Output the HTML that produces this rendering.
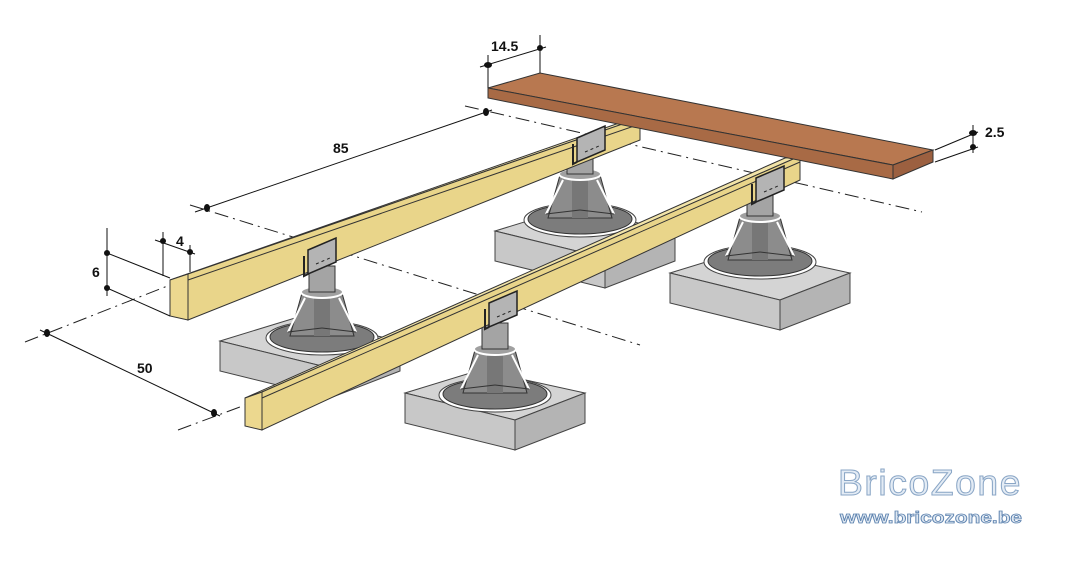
<!DOCTYPE html>
<html><head><meta charset="utf-8"><style>
html,body{margin:0;padding:0;background:#fff;width:1076px;height:561px;overflow:hidden}
svg{display:block}
</style></head><body>
<svg width="1076" height="561" viewBox="0 0 1076 561" xmlns="http://www.w3.org/2000/svg">
<defs>
<g id="pad">
  <polygon points="-90,-2 -15,-25 90,-2 20,25" fill="#d4d4d4" stroke="#444" stroke-width="1"/>
  <polygon points="-90,-2 20,25 20,55 -90,28" fill="#c8c8c8" stroke="#444" stroke-width="1"/>
  <polygon points="20,25 90,-2 90,28 20,55" fill="#b4b4b4" stroke="#444" stroke-width="1"/>
</g>
<g id="ped">
  <ellipse cx="0" cy="0" rx="56" ry="17" fill="#fff" stroke="#444"/>
  <ellipse cx="0" cy="-1" rx="52" ry="15" fill="#7c7c7c" stroke="#333"/>
  <polygon points="-32,-2 32,-2 20,-45 -20,-45" fill="#8c8c8c" stroke="#333"/>
  <polygon points="-8,-2 8,-2 8,-45 -8,-45" fill="#777"/>
  <line x1="-34" y1="-6" x2="-17" y2="-40" stroke="#fff" stroke-width="2"/>
  <line x1="34" y1="-6" x2="17" y2="-40" stroke="#fff" stroke-width="2"/>
  <line x1="-34" y1="-6" x2="0" y2="-10" stroke="#333"/>
  <line x1="34" y1="-6" x2="0" y2="-10" stroke="#333"/>
  <ellipse cx="0" cy="-46" rx="21" ry="6" fill="#a0a0a0" stroke="#fff" stroke-width="2"/>
  <rect x="-13" y="-72" width="26" height="26" fill="#a4a4a4" stroke="#333"/>
</g>
<g id="brk">
  <polygon points="-8,-2 20,-14 20,10 -8,22" fill="#b4b4b4" stroke="#222" stroke-width="1.5"/>
  <polyline points="-8,22 -12,24 -12,4" fill="none" stroke="#222" stroke-width="2"/>
  <line x1="0" y1="12" x2="14" y2="6" stroke="#222" stroke-dasharray="3,3"/>
</g>
</defs>

<!-- centre lines -->
<g stroke="#222" stroke-width="1" stroke-dasharray="14,5,2,5" fill="none">
  <line x1="190" y1="205" x2="640" y2="345"/>
  <line x1="465" y1="106" x2="922" y2="212"/>
  <line x1="25" y1="342" x2="170" y2="285"/>
  <line x1="178" y1="430" x2="248" y2="404"/>
</g>

<use href="#pad" x="585" y="233"/>
<use href="#ped" x="580" y="220"/>
<use href="#pad" x="310" y="343"/>
<use href="#ped" x="322" y="338"/>

<!-- joist 1 -->
<polygon points="170,280 188,274 640,118 622,122" fill="#f2e4a8" stroke="#333" stroke-width="1"/>
<polygon points="188,274 640,118 640,140 188,320" fill="#e9d58a" stroke="#333" stroke-width="1"/>
<polygon points="170,280 188,274 188,320 170,316" fill="#ecd88f" stroke="#333" stroke-width="1"/>
<line x1="188" y1="280" x2="640" y2="124" stroke="#333"/>

<use href="#pad" x="760" y="275"/>
<use href="#ped" x="760" y="262"/>
<use href="#pad" x="495" y="395"/>
<use href="#ped" x="495" y="395"/>

<!-- joist 2 -->
<polygon points="245,398 262,392 800,156 785,158" fill="#f2e4a8" stroke="#333" stroke-width="1"/>
<polygon points="262,392 800,156 800,180 262,430" fill="#e9d58a" stroke="#333" stroke-width="1"/>
<polygon points="245,398 262,392 262,430 245,426" fill="#ecd88f" stroke="#333" stroke-width="1"/>
<line x1="262" y1="398" x2="800" y2="162" stroke="#333"/>

<use href="#brk" x="585" y="140"/>
<use href="#brk" x="316" y="252"/>
<use href="#brk" x="764" y="180"/>
<use href="#brk" x="497" y="305"/>

<!-- board -->
<polygon points="488,88 540,73 933,150 893,165" fill="#b87850" stroke="#333" stroke-width="1"/>
<polygon points="488,88 893,165 893,179 488,98" fill="#a86a45" stroke="#333" stroke-width="1"/>
<polygon points="893,165 933,150 933,162 893,179" fill="#9c6040" stroke="#333" stroke-width="1"/>

<g stroke="#111" stroke-width="1" fill="none">
  <line x1="195" y1="212" x2="492" y2="110"/>
  <line x1="40" y1="330" x2="220" y2="416"/>
  <line x1="107" y1="228" x2="107" y2="296"/>
  <line x1="107" y1="253" x2="170" y2="278"/>
  <line x1="107" y1="288" x2="170" y2="316"/>
  <line x1="163" y1="232" x2="163" y2="276"/>
  <line x1="190" y1="245" x2="190" y2="272"/>
  <line x1="155" y1="240" x2="195" y2="254"/>
  <line x1="488" y1="55" x2="488" y2="88"/>
  <line x1="540" y1="35" x2="540" y2="73"/>
  <line x1="480" y1="67" x2="546" y2="47"/>
  <line x1="935" y1="150" x2="978" y2="132"/>
  <line x1="935" y1="162" x2="978" y2="147"/>
  <line x1="973" y1="125" x2="973" y2="153"/>
</g>
<g fill="#111">
  <ellipse cx="207" cy="208" rx="3" ry="4"/>
  <ellipse cx="486" cy="112" rx="3" ry="4"/>
  <ellipse cx="47" cy="333" rx="3" ry="4"/>
  <ellipse cx="214" cy="413" rx="3" ry="4"/>
  <circle cx="107" cy="253" r="3"/>
  <circle cx="107" cy="288" r="3"/>
  <circle cx="163" cy="241" r="3"/>
  <circle cx="190" cy="252" r="3"/>
  <ellipse cx="488" cy="65" rx="4" ry="3"/>
  <circle cx="540" cy="48" r="3"/>
  <ellipse cx="973" cy="133" rx="4" ry="3"/>
  <circle cx="973" cy="147" r="3"/>
</g>
<g font-family="Liberation Sans, sans-serif" font-weight="bold" font-size="14" fill="#111">
  <text x="333" y="153">85</text>
  <text x="137" y="373">50</text>
  <text x="92" y="277">6</text>
  <text x="176" y="246">4</text>
  <text x="491" y="51">14.5</text>
  <text x="985" y="137">2.5</text>
</g>
<text x="838" y="495" font-family="Liberation Sans, sans-serif" font-size="36" letter-spacing="1.5" textLength="184" lengthAdjust="spacingAndGlyphs" fill="#e4ecf5" stroke="#8aa6c6" stroke-width="1">BricoZone</text>
<text x="840" y="523" font-family="Liberation Sans, sans-serif" font-weight="bold" font-size="17" textLength="182" lengthAdjust="spacingAndGlyphs" fill="#dfe8f2" stroke="#5f84b0" stroke-width="0.8">www.bricozone.be</text>
</svg>
</body></html>
